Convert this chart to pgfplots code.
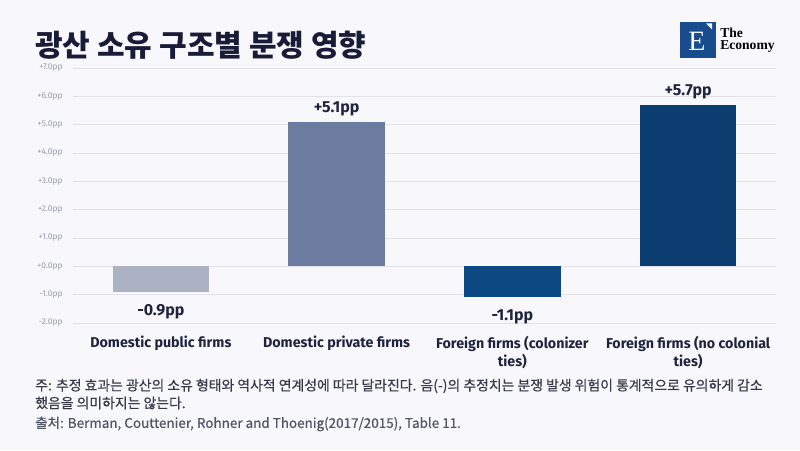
\documentclass[border=0pt]{standalone}
\usepackage{pgfplots}
\pgfplotsset{compat=1.18}
\usepackage{fontspec}
\setmainfont{Fira Sans}
\newfontfamily\kr{Noto Sans CJK KR}
\newfontfamily\krm[FakeBold=0.5]{Noto Sans CJK KR}
\newfontfamily\serifx{Liberation Serif}
\definecolor{bg}{RGB}{248,248,252}
\definecolor{gridc}{RGB}{225,226,234}
\definecolor{tickc}{RGB}{150,155,170}
\definecolor{labc}{RGB}{30,36,62}
\definecolor{titlec}{RGB}{24,28,56}
\definecolor{notec}{RGB}{55,58,75}
\definecolor{srcc}{RGB}{80,84,100}
\definecolor{bara}{RGB}{170,178,196}
\definecolor{barb}{RGB}{107,124,160}
\definecolor{barc}{RGB}{12,72,130}
\definecolor{bard}{RGB}{11,61,112}
\definecolor{logoc}{RGB}{24,76,140}
\begin{document}
\begin{tikzpicture}
\fill[bg] (0,0) rectangle (600pt,337.5pt);
\begin{axis}[
  at={(54.75pt,95.25pt)}, anchor=south west, scale only axis,
  width=527.25pt, height=191.25pt,
  xmin=-0.5, xmax=3.5, ymin=-2, ymax=7,
  ytick={-2,-1,0,1,2,3,4,5,6,7},
  yticklabels={-2.0pp,-1.0pp,+0.0pp,+1.0pp,+2.0pp,+3.0pp,+4.0pp,+5.0pp,+6.0pp,+7.0pp},
  xtick={0,1,2,3},
  xticklabels={Domestic public firms, Domestic private firms, {Foreign firms (colonizer\\ties)}, {Foreign firms (no colonial\\ties)}},
  axis line style={draw=none},
  major tick length=0pt,
  ymajorgrids, grid style={gridc, line width=0.6pt},
  yticklabel style={font=\fontsize{6.3}{7}\selectfont, text=tickc, xshift=-4.3pt},
  xticklabel style={font=\fontsize{10.7}{13.8}\selectfont\bfseries, text=labc, align=center, yshift=-6.3pt},
  ybar, bar width=0.55, bar shift=0pt,
  clip=false,
]
\addplot[fill=bara, draw=none, nodes near coords={-0.9pp}, every node near coord/.append style={font=\fontsize{12}{14}\selectfont\bfseries, text=labc, yshift=-5.8pt}] coordinates {(0,-0.9)};
\addplot[fill=barb, draw=none, nodes near coords={+5.1pp}, every node near coord/.append style={font=\fontsize{12}{14}\selectfont\bfseries, text=labc, yshift=0.8pt}] coordinates {(1,5.1)};
\addplot[fill=barc, draw=none, nodes near coords={-1.1pp}, every node near coord/.append style={font=\fontsize{12}{14}\selectfont\bfseries, text=labc, yshift=-5.8pt}] coordinates {(2,-1.1)};
\addplot[fill=bard, draw=none, nodes near coords={+5.7pp}, every node near coord/.append style={font=\fontsize{12}{14}\selectfont\bfseries, text=labc, yshift=0.8pt}] coordinates {(3,5.7)};
\end{axis}
\begin{scope}[x=0.75pt, y=-0.75pt, shift={(0,337.5pt)}]
\node[anchor=west, inner sep=0, text=titlec, font=\kr\bfseries\fontsize{22.5}{26}\selectfont] at (35,45) {광산 소유 구조별 분쟁 영향};
\node[anchor=west, inner sep=0, text=notec, font=\krm\fontsize{10.4}{12}\selectfont] at (35,386) {주: 추정 효과는 광산의 소유 형태와 역사적 연계성에 따라 달라진다. 음(-)의 추정치는 분쟁 발생 위험이 통계적으로 유의하게 감소};
\node[anchor=west, inner sep=0, text=notec, font=\krm\fontsize{10.4}{12}\selectfont] at (35,403) {했음을 의미하지는 않는다.};
\node[anchor=west, inner sep=0, text=srcc, font=\krm\fontsize{10.1}{11}\selectfont] at (35,424) {출처: Berman, Couttenier, Rohner and Thoenig(2017/2015), Table 11.};
\fill[logoc] (680,22) rectangle (716,58);
\fill[white] (706,23.5) -- (712,23.5) -- (712,29.5) -- cycle;
\node[text=white, inner sep=0, font=\serifx\fontsize{21}{21}\selectfont] at (697,41) {E};
\node[anchor=base west, inner sep=0, text=black, font=\serifx\bfseries\fontsize{10.2}{10}\selectfont] at (720,37.8) {The};
\node[anchor=base west, inner sep=0, text=black, font=\serifx\bfseries\fontsize{10.2}{10}\selectfont] at (720,49.2) {Economy};
\end{scope}
\end{tikzpicture}
\end{document}
